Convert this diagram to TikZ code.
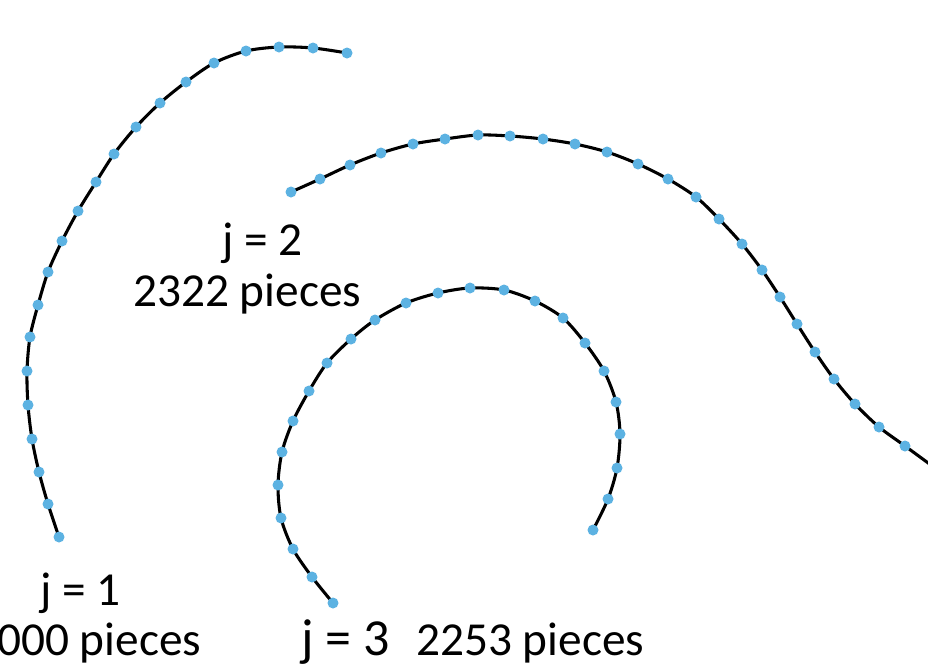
\documentclass[tikz,border=0pt]{standalone}
\usepackage{fontspec}
\setmainfont{Carlito}
\definecolor{dotblue}{RGB}{92,178,226}
\tikzset{
  curveline/.style={line width=2.3pt, black},
  dotmark/.style={fill=dotblue},
  lbl/.style={inner sep=0pt, anchor=base west, font=\fontsize{35.5}{42}\selectfont},
  lblbig/.style={inner sep=0pt, anchor=base west, font=\fontsize{39}{46}\selectfont}
}
\begin{document}
\begin{tikzpicture}[x=0.75pt,y=-0.75pt]
\useasboundingbox (0,0) rectangle (928,668);
\fill[white] (0,0) rectangle (928,668);
\clip (0,0) rectangle (928,668);
% curve j=1
\draw[curveline] plot[smooth] coordinates {(59,537) (48,504) (39,472) (32,439) (28,405) (27,371) (30,337) (38,305) (48,272) (62,241) (78,211) (96,182) (114,154) (136,127) (160,103) (186,82) (214,63) (246,51) (279,47) (313,48) (347,53)};
\foreach \x/\y in {59/537,48/504,39/472,32/439,28/405,27/371,30/337,38/305,48/272,62/241,78/211,96/182,114/154,136/127,160/103,186/82,214/63,246/51,279/47,313/48,347/53}
  \fill[dotmark] (\x,\y) circle (5.5);
% curve j=2
\draw[curveline] plot[smooth] coordinates {(291,192) (320,179) (350,165) (381,153) (413,144) (445,139) (478,135) (510,136) (543,139) (575,144) (607,152) (638,164) (668,179) (696,197) (719,219) (742,244) (762,270) (780,297) (797,324) (815,352) (834,379) (855,404) (879,427) (905,446) (935,468)};
\foreach \x/\y in {291/192,320/179,350/165,381/153,413/144,445/139,478/135,510/136,543/139,575/144,607/152,638/164,668/179,696/197,719/219,742/244,762/270,780/297,797/324,815/352,834/379,855/404,879/427,905/446}
  \fill[dotmark] (\x,\y) circle (5.5);
% curve j=3
\draw[curveline] plot[smooth] coordinates {(333,603) (312,577) (293,549) (281,518) (278,485) (282,452) (293,421) (309,391) (327,363) (351,339) (375,320) (406,303) (438,293) (470,288) (504,290) (535,301) (563,318) (585,343) (604,371) (616,402) (620,434) (617,468) (608,499) (593,530)};
\foreach \x/\y in {333/603,312/577,293/549,281/518,278/485,282/452,293/421,309/391,327/363,351/339,375/320,406/303,438/293,470/288,504/290,535/301,563/318,585/343,604/371,616/402,620/434,617/468,608/499,593/530}
  \fill[dotmark] (\x,\y) circle (5.5);
% labels
\node[lbl] (j2) at (222,255) {j = 2};
\node[lbl] (p2) at (133,306) {2322 pieces};
\node[lbl] (j1) at (40,605) {j = 1};
\node[lbl] (p1) at (-3,655) {000 pieces};
\node[lblbig] (j3) at (301,655) {j = 3};
\node[lbl] (p3) at (416,655) {2253 pieces};
\end{tikzpicture}
\end{document}
